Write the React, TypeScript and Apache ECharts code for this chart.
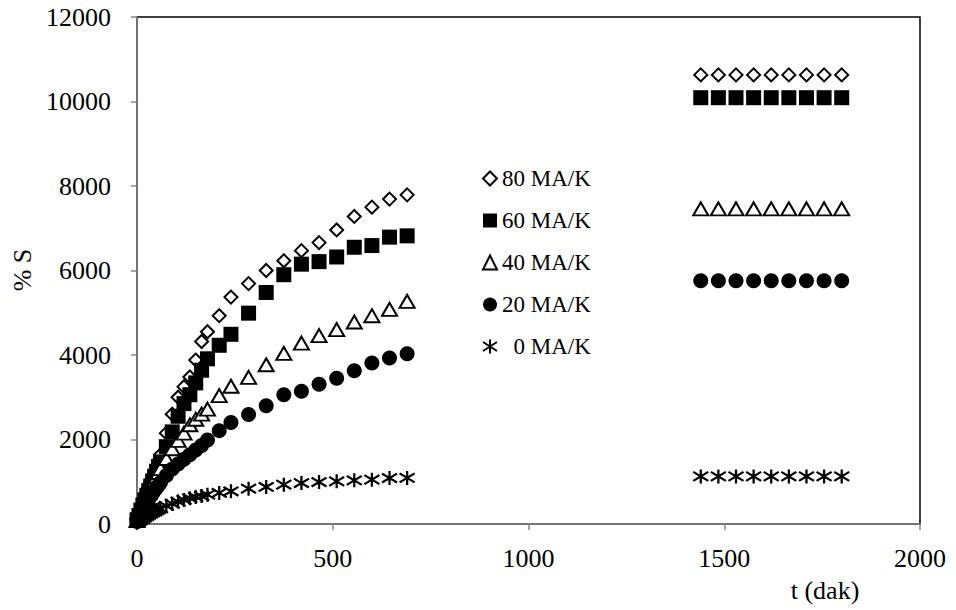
import React, { useEffect, useRef } from 'react';
import * as echarts from 'echarts';

const FONT = '"Liberation Serif", "Times New Roman", serif';

// time points (minutes), first phase
const tEarly = [0, 5, 10, 15, 20, 25, 30, 35, 40, 45, 50, 55, 60, 75, 90, 105, 120, 135, 150, 165, 180, 210, 240, 285, 330, 375, 420, 465, 510, 555, 600, 645, 690];
// time points (minutes), second phase
const tLate = [1440, 1485, 1530, 1575, 1620, 1665, 1710, 1755, 1800];

const s80 = [100, 220, 360, 490, 620, 740, 860, 980, 1100, 1230, 1360, 1500, 1640, 2150, 2600, 3000, 3250, 3480, 3880, 4320, 4550, 4930, 5370, 5690, 6000, 6230, 6470, 6660, 6960, 7280, 7500, 7690, 7790];
const s60 = [100, 200, 330, 450, 570, 680, 790, 900, 1020, 1130, 1250, 1360, 1470, 1830, 2180, 2550, 2850, 3060, 3340, 3640, 3910, 4230, 4490, 4990, 5480, 5900, 6150, 6210, 6320, 6550, 6590, 6790, 6820];
const s40 = [80, 200, 320, 430, 540, 640, 740, 840, 940, 1040, 1130, 1220, 1310, 1550, 1780, 1980, 2150, 2350, 2480, 2600, 2720, 3040, 3260, 3470, 3770, 4040, 4280, 4460, 4600, 4780, 4930, 5080, 5270];
const s20 = [60, 150, 250, 340, 430, 510, 590, 660, 730, 800, 860, 920, 980, 1150, 1300, 1420, 1530, 1640, 1750, 1860, 1990, 2210, 2400, 2590, 2800, 3060, 3140, 3310, 3450, 3630, 3810, 3930, 4030];
const s0 = [30, 60, 100, 130, 160, 190, 220, 250, 280, 300, 330, 350, 370, 430, 480, 530, 570, 610, 640, 660, 695, 735, 775, 836, 876, 931, 970, 994, 1010, 1033, 1050, 1088, 1090];

const r80 = [10630, 10630, 10630, 10630, 10630, 10630, 10630, 10630, 10630];
const r60 = [10090, 10090, 10090, 10090, 10090, 10090, 10090, 10090, 10090];
const r40 = [7460, 7460, 7460, 7460, 7460, 7460, 7460, 7460, 7460];
const r20 = [5755, 5755, 5755, 5755, 5755, 5755, 5755, 5755, 5755];
const r0 = [1126, 1126, 1126, 1126, 1126, 1126, 1126, 1126, 1126];

const names = ['80 MA/K', '60 MA/K', '40 MA/K', '20 MA/K', '\u20070 MA/K'];

const xTicks = { min: 0, max: 2000, interval: 500 };
const yTicks = { min: 0, max: 12000, interval: 2000 };

const STAR = 'path://M5,0L5,10M0,1.8L10,8.2M0,8.2L10,1.8';

function pts(early: number[], late: number[]) {
  return tEarly.map((t, i) => [t, early[i]]).concat(tLate.map((t, i) => [t, late[i]]));
}

export default function App() {
  const ref = useRef<HTMLDivElement>(null);
  useEffect(() => {
    const chart = echarts.init(ref.current!, null, { renderer: 'svg' });
    const axisLine = { lineStyle: { color: '#868686', width: 1.5 } };
    const fmt = (v: number) => String(v);
    const option: any = {
      animation: false,
      backgroundColor: '#fff',
      grid: { left: 137, top: 17, right: 36, bottom: 86, show: true, borderColor: '#000', borderWidth: 1.5 },
      xAxis: {
        type: 'value', ...xTicks,
        splitLine: { show: false },
        axisLine: { ...axisLine, onZero: false },
        axisTick: { inside: false, length: 6, lineStyle: { color: '#868686', width: 1.5 } },
        axisLabel: { fontFamily: FONT, fontSize: 26, color: '#000', margin: 21, formatter: fmt },
      },
      yAxis: {
        type: 'value', ...yTicks,
        splitLine: { show: false },
        axisLine: { ...axisLine, onZero: false },
        axisTick: { inside: false, length: 6, lineStyle: { color: '#868686', width: 1.5 } },
        axisLabel: { fontFamily: FONT, fontSize: 26, color: '#000', margin: 26, formatter: fmt },
      },
      legend: {
        orient: 'vertical', left: 477, top: 162, itemWidth: 14, itemHeight: 14, itemGap: 19,
        selectedMode: false,
        textStyle: { fontFamily: FONT, fontSize: 23, color: '#000' },
        data: names,
      },
      graphic: [
        { type: 'text', x: 22, y: 270, rotation: Math.PI / 2, style: { text: '% S', font: `26px ${FONT}`, fill: '#000', align: 'center', verticalAlign: 'middle' } },
        { type: 'text', x: 825, y: 590, style: { text: 't (dak)', font: `26px ${FONT}`, fill: '#000', align: 'center', verticalAlign: 'middle' } },
      ],
      series: [
        { name: names[0], type: 'scatter', symbol: 'diamond', symbolSize: 13, data: pts(s80, r80), itemStyle: { color: '#fff', borderColor: '#000', borderWidth: 2, opacity: 1 }, z: 2 },
        { name: names[1], type: 'scatter', symbol: 'rect', symbolSize: 15, data: pts(s60, r60), itemStyle: { color: '#000', opacity: 1 }, z: 3 },
        { name: names[2], type: 'scatter', symbol: 'triangle', symbolSize: [15, 13], data: pts(s40, r40), itemStyle: { color: '#fff', borderColor: '#000', borderWidth: 2, opacity: 1 }, z: 4 },
        { name: names[3], type: 'scatter', symbol: 'circle', symbolSize: 15, data: pts(s20, r20), itemStyle: { color: '#000', opacity: 1 }, z: 5 },
        { name: names[4], type: 'scatter', symbol: STAR, symbolSize: [15, 14], symbolKeepAspect: false, data: pts(s0, r0), itemStyle: { color: 'rgba(0,0,0,0)', borderColor: '#000', borderWidth: 2.2, opacity: 1 }, z: 6 },
      ],
    };
    chart.setOption(option);
    return () => chart.dispose();
  }, []);
  return <div ref={ref} style={{ position: 'absolute', left: 0, top: 0, width: 956, height: 610 }} />;
}
